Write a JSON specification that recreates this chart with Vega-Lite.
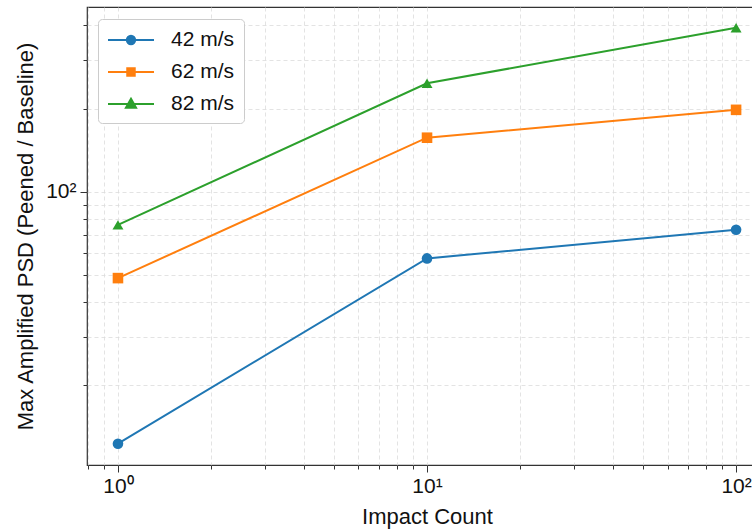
{
  "$schema": "https://vega.github.io/schema/vega-lite/v6.json",
  "autosize": "none",
  "padding": {"left": 87, "top": 7, "right": 0, "bottom": 64},
  "width": 680,
  "height": 458,
  "background": "white",
  "config": {
    "font": "Liberation Sans",
    "view": {"stroke": "#333", "strokeWidth": 1.2},
    "axis": {
      "domain": false,
      "grid": true,
      "gridColor": "#dcdcdc",
      "gridDash": [4, 3],
      "gridWidth": 0.8,
      "tickColor": "#333",
      "tickWidth": 1,
      "labelFont": "Liberation Sans",
      "labelFontSize": 21,
      "labelColor": "#111",
      "titleFont": "Liberation Sans",
      "titleFontSize": 22,
      "titleFontWeight": "normal",
      "titleColor": "#111"
    }
  },
  "data": {
    "values": [
      {"count": 1, "psd": 12.3, "series": "42 m/s"},
      {"count": 10, "psd": 57.5, "series": "42 m/s"},
      {"count": 100, "psd": 73.0, "series": "42 m/s"},
      {"count": 1, "psd": 48.8, "series": "62 m/s"},
      {"count": 10, "psd": 157, "series": "62 m/s"},
      {"count": 100, "psd": 198, "series": "62 m/s"},
      {"count": 1, "psd": 76, "series": "82 m/s"},
      {"count": 10, "psd": 247, "series": "82 m/s"},
      {"count": 100, "psd": 392, "series": "82 m/s"}
    ]
  },
  "encoding": {
    "x": {
      "field": "count",
      "type": "quantitative",
      "scale": {"type": "log", "domain": [0.794, 125.9], "nice": false, "zero": false},
      "axis": {
        "title": "Impact Count",
        "values": [0.8, 0.9, 1, 2, 3, 4, 5, 6, 7, 8, 9, 10, 20, 30, 40, 50, 60, 70, 80, 90, 100],
        "labelExpr": "datum.value == 1 ? '10⁰' : datum.value == 10 ? '10¹' : datum.value == 100 ? '10²' : ''",
        "tickSize": {"condition": {"test": "datum.value == 1 || datum.value == 10 || datum.value == 100", "value": 7}, "value": 4},
        "labelPadding": 3,
        "labelFlush": false,
        "labelOverlap": false,
        "titleBaseline": "middle",
        "titleY": 51
      }
    },
    "y": {
      "field": "psd",
      "type": "quantitative",
      "scale": {"type": "log", "domain": [10.3, 466], "nice": false, "zero": false},
      "axis": {
        "title": "Max Amplified PSD (Peened / Baseline)",
        "values": [20, 30, 40, 50, 60, 70, 80, 90, 100, 200, 300, 400],
        "labelExpr": "datum.value == 100 ? '10²' : ''",
        "tickSize": {"condition": {"test": "datum.value == 100", "value": 7}, "value": 4},
        "labelPadding": 4,
        "labelFlush": false,
        "labelOverlap": false,
        "titleX": -62,
        "titleY": 229,
        "titleAngle": -90,
        "titleAlign": "center",
        "titleBaseline": "middle"
      }
    },
    "color": {
      "field": "series",
      "type": "nominal",
      "scale": {"domain": ["42 m/s", "62 m/s", "82 m/s"], "range": ["#1f77b4", "#ff7f0e", "#2ca02c"]},
      "legend": {
        "title": null,
        "orient": "none",
        "legendX": 11,
        "legendY": 12,
        "fillColor": "white",
        "strokeColor": "#cccccc",
        "cornerRadius": 4,
        "padding": 9,
        "rowPadding": 10,
        "labelFont": "Liberation Sans",
        "labelFontSize": 21,
        "labelColor": "#111",
        "labelOffset": 40,
        "symbolSize": 484,
        "symbolStrokeWidth": 2,
        "symbolOpacity": 1
      }
    }
  },
  "layer": [
    {
      "mark": {"type": "point", "filled": true, "opacity": 0, "size": 484, "strokeWidth": 2, "clip": true},
      "encoding": {
        "shape": {
          "field": "series",
          "type": "nominal",
          "scale": {"domain": ["42 m/s", "62 m/s", "82 m/s"], "range": [
            "M-1,0H3.18M1.47,0A0.38,0.38,0,1,1,0.71,0A0.38,0.38,0,1,1,1.47,0ZM1.29,0A0.2,0.2,0,1,1,0.89,0A0.2,0.2,0,1,1,1.29,0ZM1.14,0A0.05,0.05,0,1,1,1.04,0A0.05,0.05,0,1,1,1.14,0Z",
            "M-1,0H3.18M0.75,-0.34H1.43V0.34H0.75ZM0.92,-0.17H1.26V0.17H0.92ZM1.05,-0.04H1.13V0.04H1.05Z",
            "M-1,0H3.18M1.09,-0.48L1.55,0.34L0.63,0.34ZM1.09,-0.206L1.32,0.203L0.86,0.203ZM1.09,-0.015L1.16,0.108L1.02,0.108Z"
          ]},
          "legend": {"title": null}
        },
        "stroke": {
          "field": "series",
          "type": "nominal",
          "scale": {"domain": ["42 m/s", "62 m/s", "82 m/s"], "range": ["#1f77b4", "#ff7f0e", "#2ca02c"]},
          "legend": {"title": null}
        }
      }
    },
    {
      "mark": {"type": "line", "strokeWidth": 2, "clip": true}
    },
    {
      "transform": [{"filter": "datum.series == '42 m/s'"}],
      "mark": {"type": "point", "shape": "circle", "filled": true, "opacity": 1, "size": 112, "clip": true}
    },
    {
      "transform": [{"filter": "datum.series == '62 m/s'"}],
      "mark": {"type": "point", "shape": "square", "filled": true, "opacity": 1, "size": 112, "clip": true}
    },
    {
      "transform": [{"filter": "datum.series == '82 m/s'"}],
      "mark": {"type": "point", "shape": "triangle-up", "filled": true, "opacity": 1, "size": 120, "clip": true}
    }
  ]
}
